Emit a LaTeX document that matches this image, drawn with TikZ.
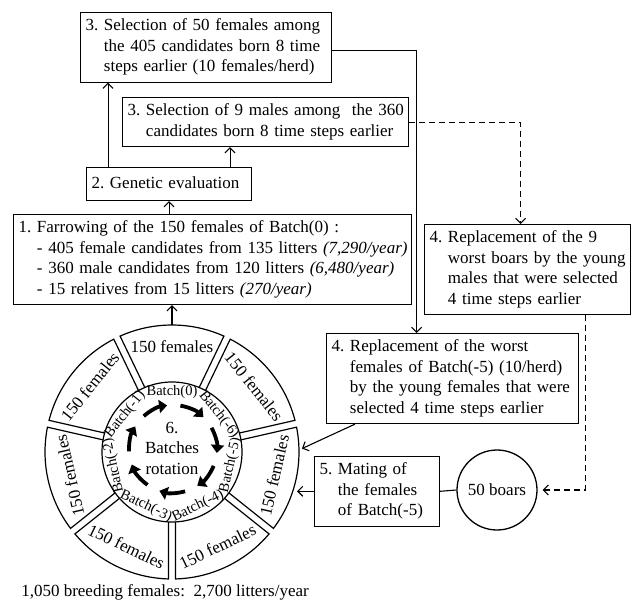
\documentclass[tikz,border=0pt]{standalone}
\usepackage{fontspec}
\setmainfont{Liberation Serif}
\usetikzlibrary{arrows.meta,calc}
\newcommand{\boxfont}{\fontsize{17}{20.5}\selectfont}
\newcommand{\batchfont}{\fontsize{14.5}{16}\selectfont}
\newcommand{\steplines}[2]{\noindent\begin{tabular}{@{}l@{\ }l@{}}#1 & #2\end{tabular}}

\begin{document}
\begin{tikzpicture}[x=1pt, y=1pt, font=\boxfont,
  stepbox/.style={draw, line width=1.1pt, inner xsep=5pt, inner ysep=4pt, align=left, anchor=north west},
  arr/.style={line width=1.1pt, ->, >={Straight Barb[length=5pt,width=10pt]}},
  dasharr/.style={arr, dash pattern=on 6pt off 4pt},
  ring/.style={line width=1.2pt},
  rotarrow/.style={line width=3.8pt, -{Triangle[length=8pt,width=13pt]}}]
\useasboundingbox (0,0) rectangle (632,-600);

% selection and evaluation boxes
\node[stepbox, text width=241pt] (sel50) at (80,-12)
  {\steplines{3.}{Selection of 50 females among\\ & the 405 candidates born 8 time\\ & steps earlier (10 females/herd)}};
\node[stepbox, text width=276pt] (sel9) at (122,-97)
  {\steplines{3.}{Selection of 9 males among\ \ the 360\\ & candidates born 8 time steps earlier}};
\node[stepbox, text width=155pt, minimum height=33pt] (geneval) at (86,-167)
  {\steplines{2.}{Genetic evaluation}};
\node[stepbox, text width=388pt] (farrow) at (13,-214)
  {\steplines{1.}{Farrowing of the 150 females of Batch(0) :\\
   & - 405 female candidates from 135 litters \textit{(7,290/year)}\\
   & - 360 male candidates from 120 litters \textit{(6,480/year)}\\
   & - 15 relatives from 15 litters \textit{(270/year)}}};

% replacement and mating
\node[stepbox, text width=196pt] (repboar) at (424,-224)
  {\steplines{4.}{Replacement of the 9\\ & worst boars by the young\\ & males that were selected\\ & 4 time steps earlier}};
\node[stepbox, text width=242pt] (repfem) at (326,-333)
  {\steplines{4.}{Replacement of the worst\\ & females of Batch(-5) (10/herd)\\ & by the young females that were\\ & selected 4 time steps earlier}};
\node[stepbox, text width=115pt] (mating) at (314,-456)
  {\steplines{5.}{Mating of\\ & the females\\ & of Batch(-5)}};
\node[draw, circle, line width=1.3pt, minimum size=80pt, inner sep=0pt] (boars) at (497,-490) {50 boars};

% batch wheel
\coordinate (wheel) at (172,-452);
\begin{scope}[shift={(wheel)}]
\draw[ring] (0,0) circle[radius=70];
\foreach \k in {0,...,6}{
  \pgfmathsetmacro{\c}{90-51.4286*\k}
  \pgfmathsetmacro{\r}{(\k>1 && \k<5) ? \c+90 : \c-90}
  \pgfmathtruncatemacro{\b}{\k==0 ? 0 : \k-7}
  \pgfmathsetmacro{\m}{\c+25.714}
  \draw[ring] (\c-22.84:70) -- (\c-24.13:127)
    arc[start angle=\c-24.13, end angle=\c+24.13, radius=127] -- (\c+22.84:70);
  \node[rotate=\r, inner sep=0pt] (f\k) at (\c:105) {150 females};
  \node[rotate=\r, font=\batchfont, inner sep=0pt] (b\k) at (\c:60) {Batch(\b)};
  \draw[rotarrow, shift={(1,3)}] (\m+16:44) arc[start angle=\m+16, end angle=\m-18, radius=44];
}
\node[align=center, inner sep=0pt] (rot) at (0,4) {6.\\Batches\\rotation};
\end{scope}
\node[anchor=base] (total) at (165,-596) {1,050 breeding females:\ \ 2,700 litters/year};

% connectors
\draw[arr] ([xshift=-61pt]geneval.north) -- ([xshift=-61pt]geneval.north |- sel50.south);
\draw[arr] ([xshift=61pt]geneval.north) -- ([xshift=61pt]geneval.north |- sel9.south);
\draw[arr] (farrow.north -| geneval.south) -- (geneval.south);
\draw[arr] ([yshift=127pt]wheel) -- (wheel |- farrow.south);
\draw[arr] ([yshift=-3pt]sel50.east) -| ([xshift=-36pt]repfem.north);
\draw[dasharr] (sel9.east) -| ([xshift=-7pt]repboar.north);
\draw[dasharr] ([xshift=58pt]repboar.south) |- ([xshift=5pt]boars.east);
\draw[line width=1.1pt] (mating.east) -- (boars.west);
\draw[arr] (mating.west) -- ++(-17,0);
\draw[arr] ([xshift=29pt]repfem.south west) -- ($(wheel)+(1.5:130)$);
\end{tikzpicture}
\end{document}
